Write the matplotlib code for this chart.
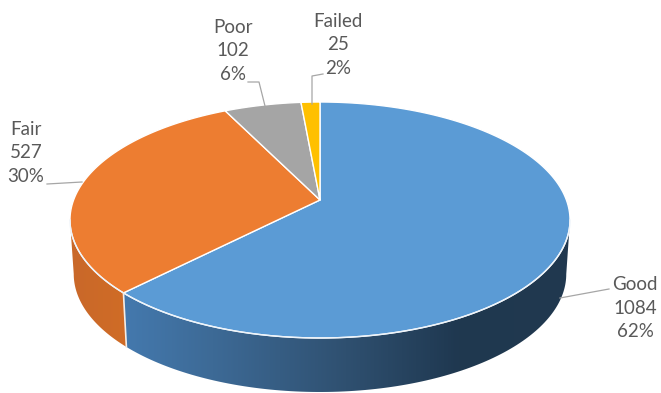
import numpy as np
import matplotlib
matplotlib.use('Agg')
import matplotlib.pyplot as plt
from matplotlib.colors import LinearSegmentedColormap
from matplotlib.patches import Polygon

names = ['Good', 'Fair', 'Poor', 'Failed']
values = [1084, 527, 102, 25]
percents = [62, 30, 6, 2]
colors = ['#5B9BD5', '#ED7D31', '#A5A5A5', '#FFC000']

# Where each label sits and the leader line running to its slice
label_xy = [(635, 308), (26, 153), (233, 51), (338, 45)]
leaders = [
    [(609, 289), (560, 298)],
    [(47, 184), (82, 182)],
    [(248, 82), (259, 82), (265, 106)],
    [(323, 74), (312, 76), (312, 104)],
]

# Tilted disc: perspective projection of a unit circle
cx, cy = 320.0, 200.0
radius = 246.4
persp = 0.1695
tilt = -80.7
depth = 54.0
shrink = 0.985


def top_edge(angle):
    # angle in degrees, clockwise from 12 o'clock
    a = np.radians(angle)
    w = 1 + persp * np.cos(a)
    return cx + radius * np.sin(a) / w, (tilt * np.cos(a) + cy) / w


def bottom_edge(angle):
    x, y = top_edge(angle)
    return cx + (x - cx) * shrink, y + depth


def wall_poly(a0, a1):
    ang = np.linspace(a0, a1, 120)
    upper = np.column_stack(top_edge(ang))
    lower = np.column_stack(bottom_edge(ang))
    return np.vstack([upper, lower[::-1]])


def draw_wall(ax, a0, a1, stops):
    # horizontal gradient clipped to the outer wall of a slice
    cmap = LinearSegmentedColormap.from_list('wall', stops)
    grad = np.linspace(0, 1, 256).reshape(1, -1)
    xs = wall_poly(a0, a1)[:, 0]
    img = ax.imshow(grad, cmap=cmap, aspect='auto', zorder=1,
                    extent=(xs.min(), xs.max(), 393, 0))
    clip = Polygon(wall_poly(a0, a1), closed=True, transform=ax.transData,
                   facecolor='none', edgecolor='none')
    ax.add_patch(clip)
    img.set_clip_path(clip)


def main():
    plt.rcParams['font.family'] = ['Lato', 'DejaVu Sans']
    fig = plt.figure(figsize=(6.61, 3.93), dpi=100)
    ax = fig.add_axes([0, 0, 1, 1])

    bounds = np.cumsum([0] + values) / sum(values) * 360.0

    # Side wall, only the front half of the disc shows
    start = np.degrees(np.arccos(-persp))
    blue_stops = [(0, '#4479AE'), (0.2, '#3D6A96'), (0.5, '#2F5070'),
                  (0.75, '#1F3850'), (1, '#21394F')]
    draw_wall(ax, start, bounds[1], blue_stops)
    draw_wall(ax, bounds[1], 360 - start, ['#C9682A', '#D06C26'])

    # Top surface of each slice
    for i, color in enumerate(colors):
        ang = np.linspace(bounds[i], bounds[i + 1], 200)
        edge = np.column_stack(top_edge(ang))
        pts = np.vstack([[cx, cy], edge])
        ax.add_patch(Polygon(pts, closed=True, facecolor=color, edgecolor='white',
                             linewidth=1.0, joinstyle='round', zorder=2))

    # Pale rim where the front wall meets the top
    ang = np.linspace(start, 360 - start, 300)
    rx, ry = top_edge(ang)
    ax.plot(rx, ry, color='#EEF4FA', linewidth=1.0, zorder=3)

    # Seam between the blue and orange walls
    xa, ya = top_edge(bounds[1])
    xb, yb = bottom_edge(bounds[1])
    ax.plot([xa, xb], [ya, yb], color='#F4EDE6', linewidth=1.2, zorder=3)

    for line in leaders:
        xs, ys = zip(*line)
        ax.plot(xs, ys, color='#A6A6A6', linewidth=0.9, zorder=4)

    for name, val, pct, (lx, ly) in zip(names, values, percents, label_xy):
        ax.text(lx, ly, f'{name}\n{val}\n{pct}%', ha='center', va='center',
                fontsize=13.5, color='#595959', linespacing=1.45, zorder=5)

    ax.set_xlim(0, 661)
    ax.set_ylim(393, 0)
    ax.axis('off')

    fig.savefig('out.png', dpi=100)
    plt.close(fig)


if __name__ == '__main__':
    main()
